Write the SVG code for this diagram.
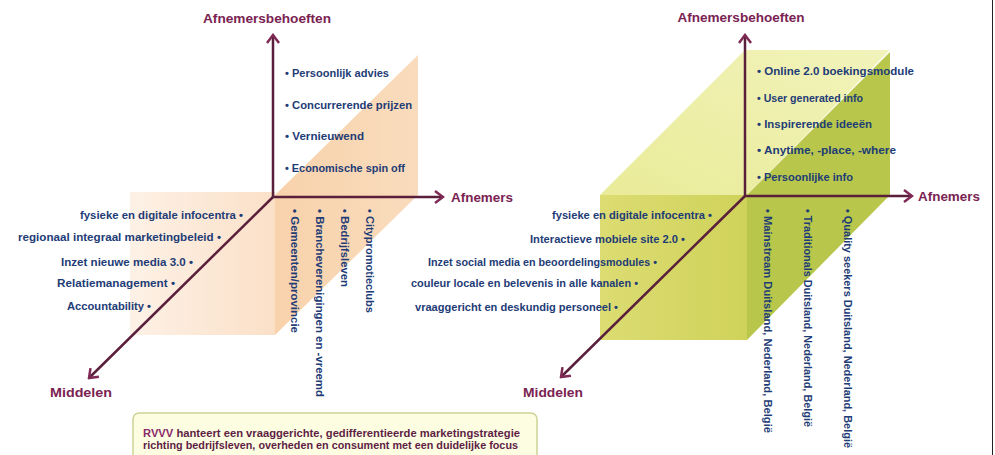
<svg xmlns="http://www.w3.org/2000/svg" width="995" height="455" viewBox="0 0 995 455">
<defs>
<style>
.ax{stroke:#5a1f3a;stroke-width:2.5;fill:none}
.lbl{font-family:"Liberation Sans",Arial,sans-serif;font-weight:bold;font-size:13.5px;fill:#7a2352}
.it{font-family:"Liberation Sans",Arial,sans-serif;font-weight:bold;font-size:11px;fill:#1e3c76}
.box{font-family:"Liberation Sans",Arial,sans-serif;font-weight:bold;font-size:10px;fill:#5e1d45}
</style>
<marker id="ah" viewBox="-10 -8 12 16" refX="0" refY="0" markerWidth="12" markerHeight="16" markerUnits="userSpaceOnUse" orient="auto">
<path d="M-8,-6 L0,0 L-8,6" fill="none" stroke="#7e2a55" stroke-width="2.5"/>
</marker>
<linearGradient id="pL" x1="0" y1="0" x2="1" y2="0">
<stop offset="0" stop-color="#fdf1e6"/>
<stop offset="1" stop-color="#fbe0c8"/>
</linearGradient>
<linearGradient id="pR" x1="0" y1="0" x2="1" y2="0">
<stop offset="0" stop-color="#f8d2ab"/>
<stop offset="1" stop-color="#f9dcbd"/>
</linearGradient>
<linearGradient id="gTop" x1="0" y1="1" x2="1" y2="0">
<stop offset="0" stop-color="#e9eb98"/>
<stop offset="1" stop-color="#f2f3bb"/>
</linearGradient>
<linearGradient id="gFront" x1="0" y1="0" x2="1" y2="0">
<stop offset="0" stop-color="#dcdc72"/>
<stop offset="1" stop-color="#cfd25a"/>
</linearGradient>
</defs>

<g id="shading-left">
<rect x="130" y="192" width="145" height="143" fill="url(#pL)"/>
<polygon points="275,195 418,55 418,195 275,335" fill="url(#pR)"/>
</g>

<g id="shading-right">
<polygon points="600,195 745,50 890,50 747,195" fill="url(#gTop)"/>
<rect x="600" y="195" width="147" height="145" fill="url(#gFront)"/>
<polygon points="747,195 890,52 890,195 747,340" fill="#b8c74b"/>
</g>

<g id="connectors">
<line class="ax" x1="273" y1="197" x2="273" y2="35" marker-end="url(#ah)"/>
<line class="ax" x1="273" y1="197" x2="443" y2="197" marker-end="url(#ah)"/>
<line class="ax" x1="273" y1="197" x2="89" y2="378" marker-end="url(#ah)"/>
<line class="ax" x1="745" y1="196" x2="745" y2="35" marker-end="url(#ah)"/>
<line class="ax" x1="745" y1="196" x2="912" y2="196" marker-end="url(#ah)"/>
<line class="ax" x1="745" y1="196" x2="561" y2="377" marker-end="url(#ah)"/>
</g>

<g id="axis-labels-left">
<text class="lbl" x="267" y="23" text-anchor="middle" textLength="128" lengthAdjust="spacingAndGlyphs">Afnemersbehoeften</text>
<text class="lbl" x="451" y="202" textLength="62" lengthAdjust="spacingAndGlyphs">Afnemers</text>
<text class="lbl" x="50" y="397" textLength="62" lengthAdjust="spacingAndGlyphs">Middelen</text>
</g>

<g id="axis-labels-right">
<text class="lbl" x="741" y="22" text-anchor="middle" textLength="127" lengthAdjust="spacingAndGlyphs">Afnemersbehoeften</text>
<text class="lbl" x="918" y="201" textLength="62" lengthAdjust="spacingAndGlyphs">Afnemers</text>
<text class="lbl" x="523" y="397" textLength="60" lengthAdjust="spacingAndGlyphs">Middelen</text>
</g>

<g id="needs-left">
<text class="it" x="285" y="77" textLength="104" lengthAdjust="spacingAndGlyphs">• Persoonlijk advies</text>
<text class="it" x="285" y="109" textLength="127" lengthAdjust="spacingAndGlyphs">• Concurrerende prijzen</text>
<text class="it" x="285" y="140" textLength="79" lengthAdjust="spacingAndGlyphs">• Vernieuwend</text>
<text class="it" x="285" y="172" textLength="120" lengthAdjust="spacingAndGlyphs">• Economische spin off</text>
</g>

<g id="means-left">
<text class="it" x="243" y="219" text-anchor="end" textLength="163" lengthAdjust="spacingAndGlyphs">fysieke en digitale infocentra •</text>
<text class="it" x="221" y="241" text-anchor="end" textLength="203" lengthAdjust="spacingAndGlyphs">regionaal integraal marketingbeleid •</text>
<text class="it" x="193" y="266" text-anchor="end" textLength="132" lengthAdjust="spacingAndGlyphs">Inzet nieuwe media 3.0 •</text>
<text class="it" x="175" y="287" text-anchor="end" textLength="118" lengthAdjust="spacingAndGlyphs">Relatiemanagement •</text>
<text class="it" x="151" y="310" text-anchor="end" textLength="84" lengthAdjust="spacingAndGlyphs">Accountability •</text>
</g>

<g id="customers-left">
<text class="it" transform="translate(291,209) rotate(90)" textLength="124" lengthAdjust="spacingAndGlyphs">• Gemeenten/provincie</text>
<text class="it" transform="translate(316,209) rotate(90)" textLength="188" lengthAdjust="spacingAndGlyphs">• Brancheverenigingen en -vreemd</text>
<text class="it" transform="translate(341,209) rotate(90)" textLength="78" lengthAdjust="spacingAndGlyphs">• Bedrijfsleven</text>
<text class="it" transform="translate(366,209) rotate(90)" textLength="104" lengthAdjust="spacingAndGlyphs">• Citypromotieclubs</text>
</g>

<g id="needs-right">
<text class="it" x="757" y="75" textLength="157" lengthAdjust="spacingAndGlyphs">• Online 2.0 boekingsmodule</text>
<text class="it" x="757" y="102" textLength="106" lengthAdjust="spacingAndGlyphs">• User generated info</text>
<text class="it" x="757" y="128" textLength="115" lengthAdjust="spacingAndGlyphs">• Inspirerende ideeën</text>
<text class="it" x="757" y="154" textLength="139" lengthAdjust="spacingAndGlyphs">• Anytime, -place, -where</text>
<text class="it" x="757" y="181" textLength="96" lengthAdjust="spacingAndGlyphs">• Persoonlijke info</text>
</g>

<g id="means-right">
<text class="it" x="712" y="219" text-anchor="end" textLength="160" lengthAdjust="spacingAndGlyphs">fysieke en digitale infocentra •</text>
<text class="it" x="685" y="243" text-anchor="end" textLength="155" lengthAdjust="spacingAndGlyphs">Interactieve mobiele site 2.0 •</text>
<text class="it" x="657" y="266" text-anchor="end" textLength="229" lengthAdjust="spacingAndGlyphs">Inzet social media en beoordelingsmodules •</text>
<text class="it" x="638" y="287" text-anchor="end" textLength="227" lengthAdjust="spacingAndGlyphs">couleur locale en belevenis in alle kanalen •</text>
<text class="it" x="618" y="311" text-anchor="end" textLength="203" lengthAdjust="spacingAndGlyphs">vraaggericht en deskundig personeel •</text>
</g>

<g id="customers-right">
<text class="it" transform="translate(764,209) rotate(90)" textLength="224" lengthAdjust="spacingAndGlyphs">• Mainstream  Duitsland, Nederland,  België</text>
<text class="it" transform="translate(804,209) rotate(90)" textLength="218" lengthAdjust="spacingAndGlyphs">• Traditionals Duitsland, Nederland, België</text>
<text class="it" transform="translate(844,209) rotate(90)" textLength="239" lengthAdjust="spacingAndGlyphs">• Quality  seekers Duitsland, Nederland, België</text>
</g>

<g id="focus-box">
<rect x="133" y="413" width="404" height="50" rx="6" fill="#fdfde2" stroke="#cdd394" stroke-width="1.5"/>
<text class="box" x="143" y="437" textLength="377" lengthAdjust="spacingAndGlyphs"><tspan fill="#8a2a6a">RVVV</tspan> hanteert een vraaggerichte, gedifferentieerde marketingstrategie</text>
<text class="box" x="143" y="449" textLength="375" lengthAdjust="spacingAndGlyphs">richting bedrijfsleven, overheden en consument met een duidelijke focus</text>
</g>

<line x1="992.5" y1="0" x2="992.5" y2="455" stroke="#222" stroke-width="1"/>
</svg>
